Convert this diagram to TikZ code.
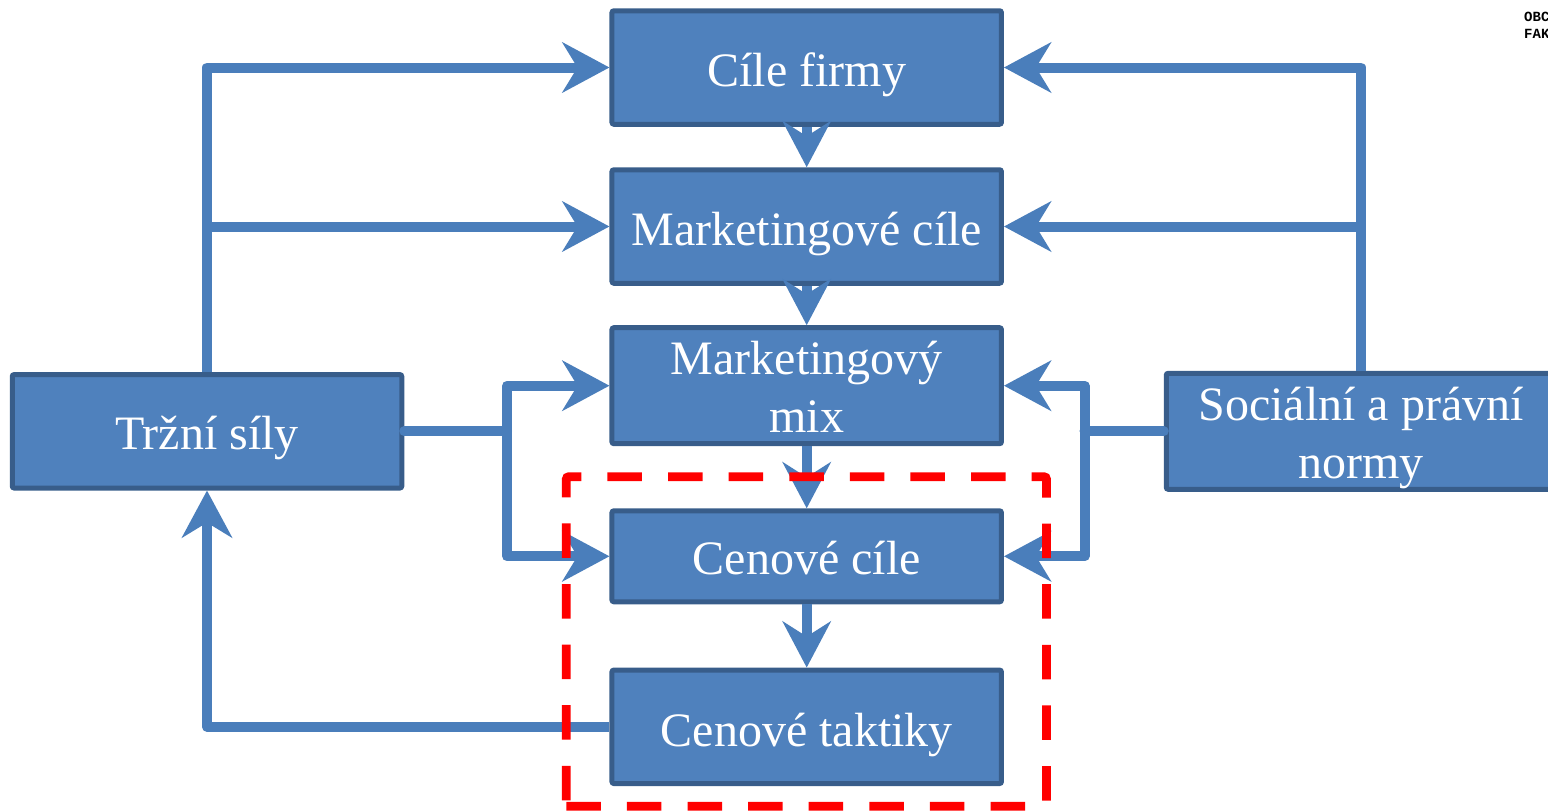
\documentclass[tikz,border=0pt]{standalone}
\usepackage{fontspec}
\setmainfont{Liberation Serif}
\newfontfamily\stampfont{Liberation Mono}
\usetikzlibrary{arrows.meta,calc}
\definecolor{boxfill}{HTML}{4F81BD}
\definecolor{boxline}{HTML}{385D8A}
\definecolor{conn}{HTML}{4A7EBB}
\newcommand{\lbl}[2][6.5pt]{\raisebox{-#1}[\height][\depth]{\begin{tabular}{@{}c@{}}#2\end{tabular}}}
\tikzset{
  box/.style={draw=boxline,fill=boxfill,line width=5pt,rounded corners=2pt,text=white,
    minimum width=389.5pt,outer sep=2.5pt,inner sep=0pt,
    font=\fontsize{48}{58}\selectfont},
  tall/.style={minimum height=113.5pt},
  short/.style={minimum height=91pt},
  link/.style={draw=conn,line width=10pt,line join=round,line cap=round},
  linkarrow/.style={link,line cap=butt,-{Stealth[length=47pt,width=50pt,inset=15pt]}},
  downarrow/.style={link,line cap=butt,-{Stealth[length=46pt,width=48pt,inset=15pt]}},
  frame/.style={draw=red,line width=8.7pt,dash pattern=on 34.5pt off 26.1pt},
  stamp/.style={inner sep=0pt,anchor=west,font=\stampfont\bfseries\fontsize{14}{14}\selectfont}
}
\begin{document}
\begin{tikzpicture}[x=1pt,y=-1pt]
\useasboundingbox (0,0) rectangle (1548,811);
\node[box,tall] (firma) at (806.7,67.5) {\lbl[7.5pt]{Cíle firmy}};
\node[box,tall] (mkt) at (806.7,226.5) {\lbl[7.5pt]{Marketingové cíle}};
\node[box,tall] (mix) at (806.7,385.7) {\lbl{Marketingový\\mix}};
\node[box,short] (cil) at (806.7,556.3) {\lbl{Cenové cíle}};
\node[box,tall] (takt) at (806.7,726.8) {\lbl[8.5pt]{Cenové taktiky}};
\node[box,tall] (trh) at (207,431.3) {\lbl{Tržní síly}};
\node[box,tall] (soc) at (1361,431.3) {\lbl[7pt]{Sociální a právní\\normy}};
\coordinate (jl) at (507,431.3);
\coordinate (jr) at (1084.5,431.3);
% left side
\draw[linkarrow] (trh.north) |- (firma.west);
\draw[linkarrow] (trh.north |- mkt.west) -- (mkt.west);
\draw[link] (trh.east) -- (jl);
\draw[linkarrow] (jl) |- (mix.west);
\draw[linkarrow] (jl) |- (cil.west);
\draw[linkarrow] (takt.west) -| (trh.south);
% right side
\draw[linkarrow] (soc.north) |- (firma.east);
\draw[linkarrow] (soc.north |- mkt.east) -- (mkt.east);
\draw[link] (soc.west) -- (jr);
\draw[linkarrow] (jr) |- (mix.east);
\draw[linkarrow] (jr) |- (cil.east);
% centre
\draw[downarrow] (firma.south) -- (mkt.north);
\draw[downarrow] (mkt.south) -- (mix.north);
\draw[downarrow] (mix.south) -- (cil.north);
\draw[downarrow] (cil.south) -- (takt.north);
\draw[frame] (566.3,806.3) [rounded corners=2.5pt] -- (1046.5,806.3) -- (1046.5,476.7) -- (566.3,476.7) -- (566.3,806.3);
\node[stamp] (s1) at (1524,17) {OBC};
\node[stamp] (s2) at (1524,34) {FAK};
\end{tikzpicture}
\end{document}
